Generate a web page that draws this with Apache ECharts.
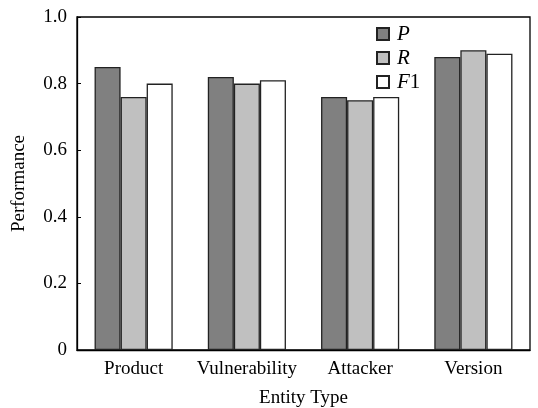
<!DOCTYPE html>
<html><head><meta charset="utf-8">
<script src="https://cdn.jsdelivr.net/npm/echarts@6/dist/echarts.min.js"></script>
<style>html,body{margin:0;padding:0;background:#fff}#c{width:538px;height:408px}</style>
</head><body><div id="c"></div>
<script>
const categories = ['Product', 'Vulnerability', 'Attacker', 'Version'];
const seriesNames = ['P', 'R', 'F1'];
const valuesP = [0.85, 0.82, 0.76, 0.88];
const valuesR = [0.76, 0.80, 0.75, 0.90];
const valuesF1 = [0.80, 0.81, 0.76, 0.89];
const yTicks = [0, 0.2, 0.4, 0.6, 0.8, 1.0];

const font = 'Liberation Serif, Times New Roman, serif';
const colors = ['#808080', '#c0c0c0', '#ffffff'];
const data = [valuesP, valuesR, valuesF1];

const chart = echarts.init(document.getElementById('c'));
chart.setOption({
  animation: false,
  backgroundColor: '#fff',
  textStyle: { fontFamily: font },
  grid: { left: 77, right: 8, top: 17, bottom: 58, outerBoundsMode: 'none', containLabel: false,
          show: true, borderColor: '#000', borderWidth: 1.3 },
  legend: {
    orient: 'vertical', left: 371, top: 18, itemWidth: 12, itemHeight: 12, itemGap: 2,
    icon: 'rect',
    formatter: n => n === 'F1' ? '{i|F}{n|1}' : '{i|' + n + '}',
    textStyle: { fontFamily: font, fontSize: 21, color: '#000', lineHeight: 22,
      rich: { i: { fontFamily: font, fontSize: 21, fontStyle: 'italic', color: '#000', lineHeight: 22, padding: [0, 0, 0, 3] },
              n: { fontFamily: font, fontSize: 21, color: '#000', lineHeight: 22 } } },
    data: seriesNames
  },
  xAxis: {
    type: 'category', data: categories,
    name: 'Entity Type', nameLocation: 'middle', nameGap: 39,
    nameTextStyle: { fontFamily: font, fontSize: 19, color: '#000' },
    axisLine: { lineStyle: { color: '#000', width: 1.3 } },
    axisTick: { show: false },
    axisLabel: { fontFamily: font, fontSize: 19, color: '#000', margin: 10, interval: 0 }
  },
  yAxis: {
    type: 'value', min: 0, max: 1, interval: 0.2,
    name: 'Performance', nameLocation: 'middle', nameGap: 48,
    nameTextStyle: { fontFamily: font, fontSize: 19, color: '#000' },
    axisLine: { show: true, lineStyle: { color: '#000', width: 1.3 } },
    axisTick: { show: true, inside: true, length: 4, lineStyle: { color: '#000' } },
    splitLine: { show: false },
    axisLabel: { fontFamily: font, fontSize: 19, color: '#000', margin: 10,
      formatter: v => { const t = yTicks.find(x => Math.abs(x - v) < 1e-9); return t === 0 ? '0' : (t !== undefined ? t.toFixed(1) : ''); } }
  },
  series: seriesNames.map((n, i) => ({
    name: n, type: 'bar', data: data[i],
    barGap: '0%', barCategoryGap: '31%',
    itemStyle: { color: colors[i], borderColor: '#222', borderWidth: 1.3 }
  }))
});
</script></body></html>
